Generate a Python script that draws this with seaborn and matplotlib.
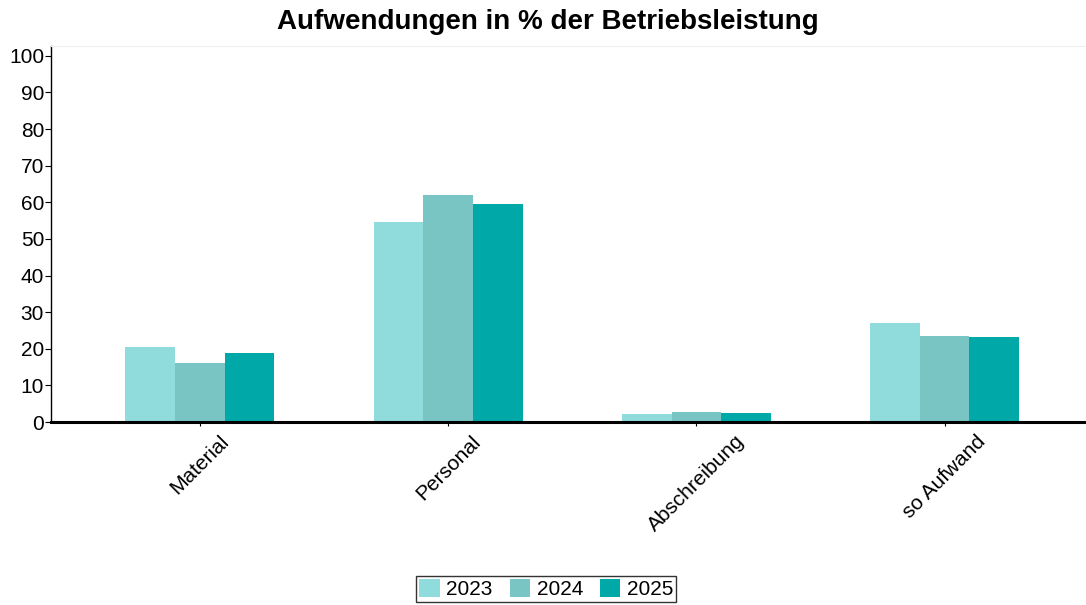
import numpy as np
import pandas as pd
import seaborn as sns
import matplotlib.pyplot as plt

categories = ["Material", "Personal", "Abschreibung", "so Aufwand"]
years = ["2023", "2024", "2025"]
values_2023 = [20.5, 54.7, 2.2, 27.0]
values_2024 = [16.1, 62.1, 2.7, 23.5]
values_2025 = [18.8, 59.6, 2.4, 23.2]
colors = ["#90DBDC", "#78C5C4", "#00A8A8"]

df = pd.DataFrame({
    "kategorie": categories * 3,
    "jahr": np.repeat(years, len(categories)),
    "wert": values_2023 + values_2024 + values_2025,
})

sns.set_style("white")
plt.rcParams["font.family"] = ["Liberation Sans", "DejaVu Sans"]
plt.rcParams["text.color"] = "black"
plt.rcParams["xtick.color"] = "black"
plt.rcParams["ytick.color"] = "black"

fig = plt.figure(figsize=(10.86, 6.05), dpi=100)
ax = fig.add_axes([51 / 1086, 1 - 422 / 605, 1035 / 1086, 376 / 605])

sns.barplot(data=df, x="kategorie", y="wert", hue="jahr", palette=colors,
            width=0.6, gap=0, saturation=1, linewidth=0, ax=ax, legend=True)

ax.set(xlabel="", ylabel="", xlim=(-0.6, 3.57), ylim=(0, 102.7))
ax.set_yticks(range(0, 101, 10))
ax.tick_params(axis="y", labelsize=15, length=4, width=0.8, left=True, pad=1)
ax.tick_params(axis="x", labelsize=15, length=3, width=0.8, bottom=True, pad=4)
for lbl in ax.get_xticklabels():
    lbl.set_rotation(45)
    lbl.set_ha("center")

for side in ["left", "bottom", "top"]:
    ax.spines[side].set_visible(True)
ax.spines["left"].set_color("black")
ax.spines["left"].set_linewidth(1)
ax.spines["bottom"].set_color("black")
ax.spines["bottom"].set_linewidth(2.2)
ax.spines["top"].set_color("#EEEEEE")
ax.spines["right"].set_visible(False)

fig.suptitle("Aufwendungen in % der Betriebsleistung", fontsize=20, fontweight="bold",
             x=0.504, y=1 - 22 / 605, va="center")

ax.get_legend().remove()
handles, labels = ax.get_legend_handles_labels()
fig.legend(handles, labels, loc="center", bbox_to_anchor=(0.503, 1 - 589 / 605), ncol=3,
           fontsize=15, frameon=True, fancybox=False, edgecolor="black",
           handlelength=1.0, handleheight=1.0, handletextpad=0.3, columnspacing=0.8,
           borderpad=0.15, borderaxespad=0)

fig.savefig("out.png", dpi=100)
